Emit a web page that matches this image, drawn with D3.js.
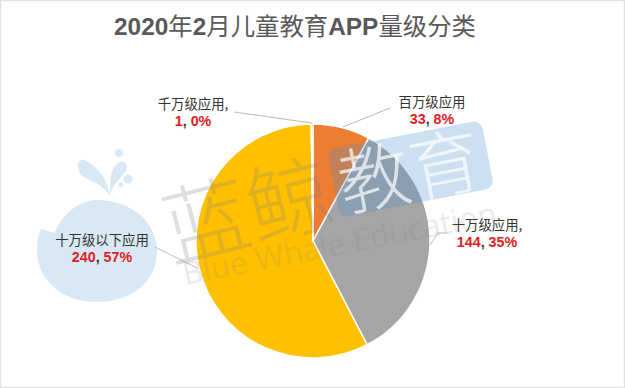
<!DOCTYPE html>
<html>
<head>
<meta charset="utf-8">
<script src="https://cdn.jsdelivr.net/npm/d3@7"></script>
<style>
  html, body { margin: 0; padding: 0; background: #fff; overflow: hidden; }
  svg { display: block; }
</style>
</head>
<body>
<div id="chart"></div>
<script>
const categories = ['百万级应用', '十万级应用', '十万级以下应用', '千万级应用'];
const nameLabels = ['百万级应用', '十万级应用,', '十万级以下应用', '千万级应用,'];
const values = [33, 144, 240, 1];
const percents = ['8%', '35%', '57%', '0%'];
const colors = ['#ed7d31', '#a5a5a5', '#ffc000', '#ffc000'];

const width = 625, height = 388;
const cx = 313, cy = 241, radius = 117;
const cjk = '"Noto Sans CJK SC", sans-serif';
const latin = '"Liberation Sans", Arial, sans-serif';

const svg = d3.select('#chart').append('svg')
  .attr('width', width).attr('height', height);

svg.append('rect')
  .attr('x', 0.5).attr('y', 0.5)
  .attr('width', width - 1).attr('height', height - 1)
  .attr('fill', '#fff').attr('stroke', '#e2e2e2').attr('stroke-width', 1.5);

// whale logo behind the chart
const whale = svg.append('g').attr('fill', '#d9e8f5');
whale.append('path')
  .attr('d', 'M41 229 L55 233 C59 220 75 200 97 200 C131 200 157 222 157 251 C157 282 131 302 97 302 C62 302 37 280 37 250 C37 242 38 236 41 229 Z');
whale.append('path')
  .attr('d', 'M110 196 C108 180 98 166 84 160 C78 158 77 166 79 171 C83 182 98 178 110 196 Z');
whale.append('path')
  .attr('d', 'M110 196 C110 180 110 168 118 163 C125 159 129 165 126 171 C121 179 113 182 110 196 Z');
whale.append('circle').attr('cx', 119).attr('cy', 153).attr('r', 4);
whale.append('circle').attr('cx', 128).attr('cy', 179).attr('r', 4.5);
whale.append('circle').attr('cx', 121).attr('cy', 185).attr('r', 2.5);

svg.append('text')
  .attr('x', 295).attr('y', 35)
  .attr('text-anchor', 'middle')
  .attr('fill', '#595959')
  .attr('font-family', latin)
  .attr('font-size', '24.4px')
  .attr('font-weight', 700)
  .selectAll('tspan')
  .data(['2020', '年', '2', '月儿童教育', 'APP', '量级分类'])
  .join('tspan')
  .attr('font-family', (d, i) => i % 2 ? cjk : latin)
  .attr('font-weight', (d, i) => i % 2 ? 400 : 700)
  .text(d => d);

const pie = d3.pie().sort(null).value(d => d);
const arc = d3.arc().innerRadius(0).outerRadius(radius);
const arcs = pie(values);

const chart = svg.append('g').attr('transform', `translate(${cx},${cy})`);
chart.selectAll('path')
  .data(arcs)
  .join('path')
  .attr('d', arc)
  .attr('fill', (d, i) => colors[i])
  .attr('stroke', '#fff')
  .attr('stroke-width', 1.5);

// leader lines and label spots, same order as categories
const labelSpots = [
  { x: 432, y: 107, line: [[343, 127], [390, 108]] },
  { x: 487, y: 230, line: [[430, 245], [438, 233], [447, 233]] },
  { x: 102, y: 245, line: [[197, 268], [155, 247]] },
  { x: 193, y: 109, line: [[312, 123], [234, 112]] }
];

svg.append('g').selectAll('path')
  .data(labelSpots)
  .join('path')
  .attr('d', d => d3.line()(d.line))
  .attr('fill', 'none')
  .attr('stroke', '#a6a6a6')
  .attr('stroke-width', 0.8);

const labels = svg.append('g').selectAll('g')
  .data(categories)
  .join('g')
  .attr('transform', (d, i) => `translate(${labelSpots[i].x},${labelSpots[i].y})`)
  .attr('text-anchor', 'middle');

labels.append('text')
  .attr('font-family', cjk)
  .attr('font-size', '13.4px')
  .attr('fill', '#333')
  .text((d, i) => nameLabels[i]);

const valueText = labels.append('text')
  .attr('y', 16.5)
  .attr('font-family', latin)
  .attr('font-size', '14.3px')
  .attr('font-weight', 700)
  .attr('fill', '#e02020');
valueText.append('tspan').text((d, i) => values[i]);
valueText.append('tspan').attr('fill', '#333').text(', ');
valueText.append('tspan').text((d, i) => percents[i]);

// watermark on top of everything
const mark = svg.append('g').attr('pointer-events', 'none');
mark.append('text')
  .attr('transform', 'translate(172,262) rotate(-14)')
  .attr('font-family', cjk)
  .attr('font-size', '86px')
  .attr('font-weight', 300)
  .attr('fill', '#808080')
  .attr('opacity', 0.25)
  .text('蓝鲸');
const badge = mark.append('g').attr('transform', 'translate(327,150) rotate(-11)');
badge.append('rect')
  .attr('width', 157).attr('height', 69).attr('rx', 9)
  .attr('fill', '#4a90d0').attr('opacity', 0.28);
badge.append('text')
  .attr('x', 5).attr('y', 63)
  .attr('font-family', cjk)
  .attr('font-size', '72px')
  .attr('font-weight', 300)
  .attr('fill', '#fff')
  .attr('opacity', 0.7)
  .text('教育');
mark.append('text')
  .attr('transform', 'translate(185,285) rotate(-11)')
  .attr('font-family', '"Open Sans", sans-serif')
  .attr('font-size', '31.5px')
  .attr('fill', '#808080')
  .attr('opacity', 0.15)
  .text('Blue Whale Education');
</script>
</body>
</html>
